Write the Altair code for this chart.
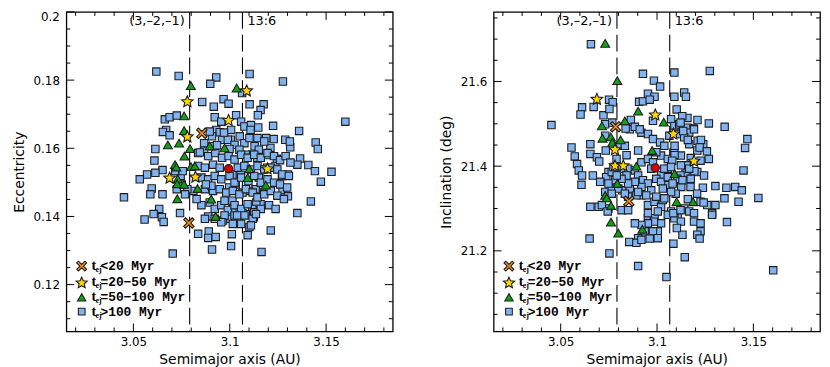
import altair as alt
import pandas as pd

# ---------------- data ----------------
# Left panel: semimajor axis (AU) vs eccentricity
ecc_squares = [
    (3.0619, 0.1825), (3.0735, 0.1812), (3.0930, 0.1808), (3.0899, 0.1789), (3.1103, 0.1818),
    (3.1276, 0.1796), (3.0857, 0.1736), (3.0968, 0.1744), (3.0917, 0.1722), (3.0994, 0.1731),
    (3.1103, 0.1729), (3.1176, 0.1729), (3.1160, 0.1712), (3.1146, 0.1697), (3.1064, 0.1762),
    (3.1600, 0.1678), (3.1033, 0.1697), (3.1059, 0.1678), (3.1076, 0.1664), (3.1110, 0.1668),
    (3.1108, 0.1654), (3.0922, 0.1691), (3.0956, 0.1678), (3.0663, 0.1685), (3.0688, 0.1691),
    (3.0725, 0.1696), (3.0670, 0.1654), (3.0653, 0.1648), (3.0688, 0.1638), (3.0930, 0.1654),
    (3.0948, 0.1647), (3.0908, 0.1635), (3.0896, 0.1649), (3.0960, 0.1625), (3.0614, 0.1598),
    (3.0609, 0.1564), (3.0651, 0.1536), (3.0614, 0.1528), (3.0571, 0.1523), (3.0533, 0.1509),
    (3.0451, 0.1456), (3.0595, 0.1482), (3.0588, 0.1465), (3.0651, 0.1465), (3.0634, 0.1422),
    (3.0605, 0.1407), (3.0648, 0.1398), (3.0657, 0.1384), (3.0558, 0.1391), (3.0742, 0.1410),
    (3.0836, 0.1349), (3.0891, 0.1356), (3.0888, 0.1337), (3.0927, 0.1340), (3.0704, 0.1291),
    (3.0908, 0.1303), (3.1007, 0.1313), (3.1011, 0.1348), (3.1093, 0.1345), (3.1165, 0.1296),
    (3.1213, 0.1359), (3.1225, 0.1666), (3.1360, 0.1651), (3.1148, 0.1661), (3.1228, 0.1627),
    (3.1189, 0.1630), (3.1288, 0.1625), (3.1314, 0.1603), (3.1446, 0.1617), (3.1457, 0.1598),
    (3.1211, 0.1601), (3.1052, 0.1635), (3.1006, 0.1625), (3.1129, 0.1606), (3.1151, 0.1596),
    (3.1117, 0.1581), (3.1083, 0.1581), (3.1143, 0.1572), (3.1199, 0.1580), (3.1245, 0.1569),
    (3.1237, 0.1548), (3.1194, 0.1543), (3.1365, 0.1570), (3.1351, 0.1552), (3.1408, 0.1551),
    (3.1442, 0.1533), (3.1528, 0.1531), (3.1473, 0.1502), (3.1302, 0.1523), (3.1271, 0.1519),
    (3.1274, 0.1477), (3.1302, 0.1459), (3.1421, 0.1444), (3.1351, 0.1410), (3.1160, 0.1436),
    (3.1138, 0.1441), (3.1117, 0.1422), (3.1083, 0.1407), (3.1125, 0.1398), (3.1066, 0.1409),
    (3.1014, 0.1446), (3.1014, 0.1422), (3.1151, 0.1514), (3.1160, 0.1485), (3.1177, 0.1470),
    (3.1134, 0.1480), (3.1100, 0.1475), (3.1066, 0.1470), (3.1031, 0.1494), (3.1014, 0.1523),
    (3.1057, 0.1522), (3.0997, 0.1485), (3.1312, 0.1620), (3.1076, 0.1615), (3.1102, 0.1630),
    (3.1144, 0.1630), (3.1179, 0.1620), (3.0990, 0.1625), (3.1025, 0.1610), (3.0999, 0.1598),
    (3.1050, 0.1596),
    (3.0836, 0.1586), (3.0867, 0.1594), (3.0888, 0.1577), (3.0925, 0.1586), (3.0960, 0.1572),
    (3.0994, 0.1577), (3.1025, 0.1567), (3.1059, 0.1581), (3.1093, 0.1572), (3.1127, 0.1581),
    (3.1161, 0.1572), (3.1196, 0.1586), (3.1230, 0.1577), (3.1261, 0.1565), (3.1290, 0.1577),
    (3.1315, 0.1558),
    (3.0836, 0.1548), (3.0871, 0.1543), (3.0913, 0.1552), (3.0948, 0.1543), (3.1042, 0.1543),
    (3.1076, 0.1548), (3.1110, 0.1538), (3.1144, 0.1548), (3.1179, 0.1538), (3.1213, 0.1543),
    (3.1247, 0.1538), (3.1273, 0.1523), (3.1307, 0.1519),
    (3.0853, 0.1514), (3.0888, 0.1509), (3.0922, 0.1519), (3.0956, 0.1509), (3.0999, 0.1519),
    (3.1025, 0.1499), (3.1059, 0.1514), (3.1097, 0.1504), (3.1127, 0.1519), (3.1161, 0.1499),
    (3.1196, 0.1509), (3.1230, 0.1499), (3.1261, 0.1494), (3.1298, 0.1485),
    (3.0871, 0.1480), (3.0913, 0.1475), (3.0948, 0.1480), (3.0982, 0.1470), (3.1016, 0.1475),
    (3.1050, 0.1465), (3.1084, 0.1480), (3.1119, 0.1470), (3.1144, 0.1456), (3.1179, 0.1465),
    (3.1213, 0.1475), (3.1247, 0.1461), (3.1281, 0.1451),
    (3.0853, 0.1433), (3.0896, 0.1441), (3.0922, 0.1422), (3.0956, 0.1433), (3.0990, 0.1419),
    (3.1025, 0.1433), (3.1059, 0.1422), (3.1093, 0.1436), (3.1127, 0.1412), (3.1161, 0.1422),
    (3.1204, 0.1433), (3.1238, 0.1422), (3.0990, 0.1393), (3.1025, 0.1403), (3.1076, 0.1403),
    (3.1119, 0.1393), (3.1059, 0.1378), (3.1016, 0.1378), (3.0965, 0.1388), (3.1102, 0.1369),
    (3.0811, 0.1475), (3.0780, 0.1480), (3.0751, 0.1494), (3.0768, 0.1465), (3.0828, 0.1451),
    (3.0725, 0.1480), (3.0745, 0.1519), (3.0717, 0.1533), (3.0756, 0.1533), (3.0845, 0.1588),
    (3.0910, 0.1606), (3.0934, 0.1609), (3.0973, 0.1446), (3.0973, 0.1403), (3.0888, 0.1400),
    (3.0905, 0.1490), (3.0876, 0.1494), (3.0867, 0.1615), (3.1007, 0.1654), (3.0970, 0.1646),
    (3.0871, 0.1393), (3.0922, 0.1393), (3.0956, 0.1383), (3.1038, 0.1403), (3.1110, 0.1374),
    (3.1136, 0.1407),
]
ecc_triangles = [
    (3.0798, 0.1784), (3.1036, 0.1777), (3.0763, 0.1695), (3.0763, 0.1652), (3.0679, 0.1610),
    (3.0737, 0.1615), (3.0794, 0.1599), (3.0896, 0.1607), (3.0973, 0.1601), (3.0765, 0.1577),
    (3.0716, 0.1552), (3.0799, 0.1546), (3.0819, 0.1548), (3.1102, 0.1540), (3.1093, 0.1514),
    (3.0730, 0.1510), (3.0727, 0.1496), (3.0763, 0.1494), (3.0833, 0.1482), (3.0904, 0.1451),
    (3.0728, 0.1452), (3.1187, 0.1492), (3.0926, 0.1400), (3.0723, 0.1545),
]
ecc_stars = [
    (3.1088, 0.1770), (3.0780, 0.1738), (3.0994, 0.1683), (3.0780, 0.1635),
    (3.0688, 0.1514), (3.0822, 0.1517), (3.1196, 0.1541),
]
ecc_crosses = [(3.0855, 0.1644), (3.0788, 0.1381)]
ecc_red = [(3.0994, 0.1540)]

# Right panel: semimajor axis (AU) vs inclination (deg)
inc_squares = [
    (3.0657, 21.688), (3.0927, 21.618), (3.1090, 21.621), (3.1274, 21.625), (3.0984, 21.602),
    (3.1016, 21.588), (3.1141, 21.574), (3.1150, 21.564), (3.1090, 21.564), (3.0953, 21.571),
    (3.0987, 21.564), (3.0907, 21.552), (3.0927, 21.553), (3.0751, 21.557), (3.0770, 21.551),
    (3.0671, 21.540), (3.0611, 21.539), (3.0603, 21.522), (3.0722, 21.520), (3.0452, 21.497),
    (3.0731, 21.499), (3.0768, 21.503), (3.0850, 21.501), (3.0979, 21.507), (3.1073, 21.511),
    (3.1090, 21.495), (3.1115, 21.499), (3.1158, 21.514), (3.1158, 21.491), (3.1210, 21.509),
    (3.1269, 21.501), (3.1351, 21.493), (3.1189, 21.489), (3.1167, 21.479), (3.0556, 21.444),
    (3.0573, 21.423), (3.0585, 21.405), (3.0594, 21.390), (3.0611, 21.378), (3.0608, 21.356),
    (3.0654, 21.452), (3.0654, 21.429), (3.0688, 21.421), (3.0700, 21.411), (3.0731, 21.472),
    (3.0734, 21.437), (3.0748, 21.386), (3.0799, 21.448), (3.0833, 21.448), (3.0842, 21.426),
    (3.0919, 21.479), (3.0953, 21.476), (3.0979, 21.464), (3.1016, 21.456), (3.1038, 21.448),
    (3.1064, 21.472), (3.1090, 21.479), (3.1115, 21.476), (3.1141, 21.468), (3.1167, 21.452),
    (3.1192, 21.487), (3.1209, 21.437), (3.1240, 21.452), (3.1269, 21.417), (3.1226, 21.413),
    (3.0816, 21.394), (3.0850, 21.394), (3.0885, 21.390), (3.0919, 21.409), (3.0953, 21.417),
    (3.0979, 21.409), (3.1021, 21.425), (3.1056, 21.417), (3.1090, 21.433), (3.1124, 21.425),
    (3.1175, 21.419), (3.1209, 21.386), (3.1244, 21.378), (3.1303, 21.353), (3.1360, 21.349),
    (3.1406, 21.351), (3.1440, 21.343), (3.1449, 21.390), (3.0654, 21.304), (3.0697, 21.304),
    (3.0748, 21.300), (3.0816, 21.296), (3.0850, 21.296), (3.0919, 21.331), (3.0953, 21.308),
    (3.0987, 21.316), (3.1021, 21.304), (3.1073, 21.293), (3.1107, 21.285), (3.1141, 21.300),
    (3.1167, 21.293), (3.1192, 21.289), (3.1226, 21.316), (3.1261, 21.308), (3.1286, 21.289),
    (3.1303, 21.308), (3.1350, 21.324), (3.1423, 21.316), (3.1526, 21.325), (3.0953, 21.277),
    (3.0987, 21.277), (3.1021, 21.265), (3.1056, 21.285), (3.1090, 21.277), (3.1124, 21.269),
    (3.1192, 21.269), (3.1226, 21.265), (3.1286, 21.285), (3.1226, 21.246), (3.1209, 21.238),
    (3.1132, 21.238), (3.1103, 21.254), (3.1004, 21.246), (3.0979, 21.246), (3.0936, 21.246),
    (3.0902, 21.230), (3.0856, 21.221), (3.0893, 21.219), (3.0962, 21.229), (3.1004, 21.230),
    (3.0650, 21.229), (3.0753, 21.194), (3.0902, 21.164), (3.1049, 21.138), (3.1144, 21.185),
    (3.1363, 21.268), (3.1603, 21.154), (3.1457, 21.443), (3.1469, 21.464),
    (3.1102, 21.534), (3.1131, 21.518), (3.1122, 21.503), (3.1160, 21.462), (3.1136, 21.483),
    (3.1211, 21.460), (3.1228, 21.462), (3.1221, 21.444), (3.1259, 21.435), (3.1091, 21.448),
    (3.1091, 21.426), (3.1079, 21.413), (3.1194, 21.388), (3.1153, 21.402), (3.1148, 21.382),
    (3.1122, 21.378), (3.1105, 21.370), (3.1238, 21.349), (3.1174, 21.351), (3.1126, 21.351),
    (3.1208, 21.335), (3.1160, 21.322), (3.1242, 21.314), (3.1097, 21.335), (3.1085, 21.289),
    (3.1122, 21.296), (3.1221, 21.229), (3.1085, 21.217),
    (3.0962, 21.557), (3.0753, 21.535), (3.0864, 21.509), (3.0859, 21.487), (3.0837, 21.489),
    (3.0885, 21.493), (3.0910, 21.487), (3.0667, 21.378), (3.0736, 21.374), (3.0765, 21.386),
    (3.0842, 21.378), (3.0731, 21.339), (3.0765, 21.347), (3.0820, 21.343), (3.0859, 21.347),
    (3.0714, 21.308), (3.0744, 21.293), (3.0850, 21.328), (3.0893, 21.331), (3.0953, 21.289),
    (3.1004, 21.293), (3.0984, 21.269), (3.0953, 21.265), (3.0919, 21.261), (3.0885, 21.265),
    (3.0919, 21.226), (3.1030, 21.320), (3.1047, 21.355), (3.1021, 21.378), (3.1056, 21.394),
    (3.0902, 21.378), (3.0927, 21.367), (3.0953, 21.359), (3.0996, 21.370), (3.1021, 21.363),
    (3.1056, 21.374), (3.1081, 21.359), (3.1132, 21.367), (3.1175, 21.370), (3.0919, 21.351),
    (3.0970, 21.343), (3.1030, 21.347), (3.1073, 21.339), (3.0902, 21.339), (3.0944, 21.331),
    (3.0996, 21.328), (3.1038, 21.324), (3.0885, 21.363), (3.0850, 21.359), (3.0816, 21.370),
    (3.0782, 21.367), (3.0799, 21.347), (3.0833, 21.335), (3.0765, 21.335), (3.0902, 21.437),
    (3.0996, 21.433), (3.0970, 21.394), (3.1038, 21.394), (3.1073, 21.398), (3.1124, 21.402),
    (3.1167, 21.394), (3.0790, 21.417), (3.0774, 21.398), (3.0791, 21.378), (3.0748, 21.359),
    (3.0705, 21.363),
]
inc_triangles = [
    (3.0731, 21.690), (3.0794, 21.602), (3.0902, 21.530), (3.1035, 21.504), (3.0714, 21.495),
    (3.0833, 21.507), (3.0717, 21.466), (3.0760, 21.469), (3.0811, 21.462), (3.0768, 21.456),
    (3.0975, 21.437), (3.0893, 21.400), (3.0794, 21.359), (3.0731, 21.331), (3.0739, 21.325),
    (3.0761, 21.307), (3.0761, 21.268), (3.0799, 21.242), (3.0924, 21.251), (3.1091, 21.382),
    (3.1102, 21.316), (3.1187, 21.316),
]
inc_stars = [
    (3.0688, 21.559), (3.0991, 21.522), (3.1085, 21.477), (3.1192, 21.413),
    (3.0782, 21.440), (3.0782, 21.402), (3.0825, 21.402),
]
inc_crosses = [(3.0785, 21.493), (3.0854, 21.317)]
inc_red = [(3.0991, 21.396)]

resonance_a = [3.0792, 3.1066]
resonance_labels = ["(3,\u20132,\u20131)", "13:6"]

x_major = [3.05, 3.1, 3.15]
x_minor = [3.02, 3.03, 3.04, 3.06, 3.07, 3.08, 3.09, 3.11, 3.12, 3.13, 3.14, 3.16, 3.17, 3.18]
ecc_major = [0.12, 0.14, 0.16, 0.18, 0.2]
ecc_minor = [0.11, 0.115, 0.125, 0.13, 0.135, 0.145, 0.15, 0.155, 0.165, 0.17,
             0.175, 0.185, 0.19, 0.195]
inc_major = [21.2, 21.4, 21.6]
inc_minor = [21.05, 21.1, 21.15, 21.25, 21.3, 21.35, 21.45, 21.5, 21.55, 21.65, 21.7, 21.75]

legend_labels = ["<20 Myr", "=20\u221250 Myr", "=50\u2212100 Myr", ">100 Myr"]

# ---------------- styling ----------------
W, H = 330, 323
X_DOMAIN = [3.0152, 3.1846]
ECC_DOMAIN = [0.10627, 0.2]
INC_DOMAIN = [21.0097, 21.7642]

SQ_FILL = "#80b3f0"
TRI_FILL = "#12a012"
STAR_FILL = "#ffd400"
X_FILL = "#f5901e"
RED_FILL = "#e00000"
EDGE = "#1e1e1e"

STAR = ("M0,-0.9L0.27,-0.28L0.95,-0.22L0.44,0.23L0.59,0.9L0,0.55L-0.59,0.9"
        "L-0.44,0.23L-0.95,-0.22L-0.27,-0.28Z")
XSHAPE = ("M-1,-0.65L-0.65,-1L0,-0.35L0.65,-1L1,-0.65L0.35,0L1,0.65L0.65,1"
          "L0,0.35L-0.65,1L-1,0.65L-0.35,0Z")

SYMBOLS = [  # (shape, fill) for the four ejection-time classes
    (XSHAPE, X_FILL),
    (STAR, STAR_FILL),
    ("triangle-up", TRI_FILL),
    ("square", SQ_FILL),
]
LEGEND_SIZES = [100, 140, 72, 46]
LEGEND_Y = [257, 273.5, 288.5, 303]


def panel(squares, triangles, stars, crosses, red, ydomain, ytitle, yfmt, ymaj, ymin):
    xs = alt.Scale(domain=X_DOMAIN, nice=False, zero=False)
    ys = alt.Scale(domain=ydomain, nice=False, zero=False)
    xaxis = alt.Axis(values=x_major, format=".2~f", ticks=False, domain=False, grid=False,
                     labelFontSize=12, labelPadding=5, title="Semimajor axis (AU)",
                     titleFontSize=14, titleFontWeight="normal", titlePadding=5)
    yaxis = alt.Axis(values=ymaj, format=yfmt, ticks=False, domain=False, grid=False,
                     labelFontSize=12, labelPadding=7, labelFlush=True, title=ytitle,
                     titleFontSize=14, titleFontWeight="normal", titlePadding=7)

    def X(field="a"):
        return alt.X(f"{field}:Q", scale=xs, axis=xaxis)

    def Y(field="v"):
        return alt.Y(f"{field}:Q", scale=ys, axis=yaxis)

    layers = []
    res_df = pd.DataFrame({"a": resonance_a, "label": resonance_labels})
    layers.append(alt.Chart(res_df).mark_rule(color="black", strokeWidth=1.1,
                                              strokeDash=[17, 6]).encode(x=X()))

    def pts(data, shape, fill, size):
        df = pd.DataFrame(data, columns=["a", "v"])
        return alt.Chart(df).mark_point(shape=shape, filled=True, fill=fill, stroke=EDGE,
                                        strokeWidth=1.1, size=size, opacity=1).encode(
            x=X(), y=Y())

    layers.append(pts(squares, "square", SQ_FILL, 56))
    layers.append(pts(triangles, "triangle-up", TRI_FILL, 82))
    layers.append(pts(stars, STAR, STAR_FILL, 150))
    layers.append(pts(crosses, XSHAPE, X_FILL, 110))
    layers.append(pts(red, "circle", RED_FILL, 70))

    # inward ticks on all four sides
    for vals, L in [(x_major, 8), (x_minor, 4)]:
        df = pd.DataFrame({"a": vals})
        for y0, y1 in [(H, H - L), (0, L)]:
            layers.append(alt.Chart(df).mark_rule(color="black", strokeWidth=1).encode(
                x=X(), y=alt.value(y0), y2=alt.value(y1)))
    for vals, L in [(ymaj, 8), (ymin, 4)]:
        df = pd.DataFrame({"v": vals})
        for x0, x1 in [(0, L), (W, W - L)]:
            layers.append(alt.Chart(df).mark_rule(color="black", strokeWidth=1).encode(
                y=Y(), x=alt.value(x0), x2=alt.value(x1)))

    # resonance labels
    layers.append(alt.Chart(res_df.iloc[[0]]).mark_text(
        align="right", baseline="middle", dx=-5, fontSize=13, font="DejaVu Sans",
        color="black").encode(x=X(), y=alt.value(9), text="label:N"))
    layers.append(alt.Chart(res_df.iloc[[1]]).mark_text(
        align="left", baseline="middle", dx=5, fontSize=13, font="DejaVu Sans",
        color="black").encode(x=X(), y=alt.value(9), text="label:N"))

    # legend (inside, lower left)
    one = pd.DataFrame({"k": [0]})
    for (shape, fill), size, lab, ly in zip(SYMBOLS, LEGEND_SIZES, legend_labels, LEGEND_Y):
        layers.append(alt.Chart(one).mark_point(shape=shape, filled=True, fill=fill,
                                                stroke=EDGE, strokeWidth=1.1, size=size,
                                                opacity=1).encode(
            x=alt.value(15.5), y=alt.value(ly)))
        layers.append(alt.Chart(one).mark_text(text="t", align="left", baseline="middle",
                                               font="Liberation Serif", fontWeight="bold",
                                               fontSize=14, color="black").encode(
            x=alt.value(25.5), y=alt.value(ly)))
        layers.append(alt.Chart(one).mark_text(text="ej", align="left", baseline="middle",
                                               font="Liberation Serif", fontWeight="bold",
                                               fontSize=8, color="black").encode(
            x=alt.value(29.5), y=alt.value(ly + 4)))
        layers.append(alt.Chart(one).mark_text(text=lab, align="left", baseline="middle",
                                               font="Liberation Mono", fontWeight="bold",
                                               fontSize=13, color="black").encode(
            x=alt.value(34.5), y=alt.value(ly)))

    return alt.layer(*layers).properties(width=W, height=H)


left = panel(ecc_squares, ecc_triangles, ecc_stars, ecc_crosses, ecc_red,
             ECC_DOMAIN, "Eccentricity", ".2~f", ecc_major, ecc_minor)
right = panel(inc_squares, inc_triangles, inc_stars, inc_crosses, inc_red,
              INC_DOMAIN, "Inclination (deg)", ".1f", inc_major, inc_minor)

chart = alt.hconcat(left, right, spacing=102, bounds="flush").properties(
    padding={"left": 3, "top": 0, "right": 0, "bottom": 0}
).configure_view(stroke="black", strokeWidth=1.3).configure_axis(
    labelFont="DejaVu Sans", titleFont="DejaVu Sans", labelColor="black", titleColor="black"
)

chart.save("out.html", embed_options={"renderer": "svg", "actions": False})
